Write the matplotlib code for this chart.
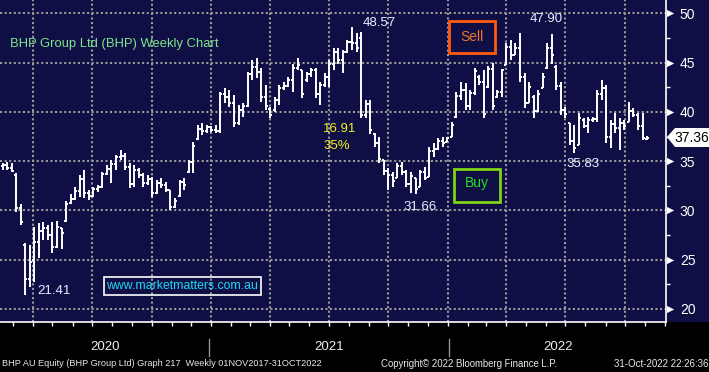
import numpy as np
import pandas as pd
import matplotlib
matplotlib.use("Agg")
import matplotlib.pyplot as plt
import matplotlib.dates as mdates
from matplotlib.patches import Rectangle, Polygon
from matplotlib.transforms import blended_transform_factory

plt.rcParams['font.family'] = ['Liberation Sans', 'DejaVu Sans']

# ---------------- data (weekly OHLC, weeks ending Friday) ----------------
first_week = "2020-02-07"
high = [35.3, 34.8, 34.9, 34.8, 33.8, 30.7, 26.7, 26.5, 28.3, 28.7,
        28.8, 28.5, 28.8, 28.9, 28.2, 31.0, 31.7, 32.4, 33.6, 34.1,
        32.1, 32.4, 32.6, 33.9, 34.6, 35.1, 35.6, 36.1, 35.8, 34.8,
        34.6, 34.3, 33.8, 33.6, 33.4, 33.1, 33.3, 32.9, 32.1, 31.3,
        33.1, 33.3, 35.1, 36.9, 38.7, 38.9, 38.7, 38.6, 38.7, 42.0,
        42.4, 42.2, 41.7, 40.7, 40.9, 44.0, 45.3, 45.5, 44.5, 42.7,
        40.5, 41.5, 42.7, 43.0, 43.5, 44.9, 45.5, 44.2, 44.0, 44.5,
        44.5, 43.0, 43.9, 45.3, 46.5, 46.5, 46.3, 47.3, 48.57, 48.0,
        48.1, 41.2, 41.2, 37.9, 37.4, 35.1, 34.3, 33.9, 34.8, 34.9,
        34.1, 33.9, 33.3, 34.1, 34.4, 36.4, 36.8, 37.3, 37.4, 37.4,
        39.0, 42.0, 43.0, 42.9, 42.2, 44.5, 43.7, 44.2, 44.7, 45.0,
        42.2, 44.4, 47.0, 47.3, 47.0, 48.0, 43.9, 43.0, 41.7, 42.2,
        43.9, 47.0, 47.9, 44.8, 43.0, 40.5, 38.9, 38.7, 39.9, 39.4,
        39.5, 39.5, 42.2, 43.2, 42.7, 39.2, 39.9, 39.4, 39.2, 41.0,
        40.4, 39.9, 39.9, 37.6]
low = [34.0, 34.1, 34.1, 33.9, 29.8, 28.5, 21.41, 22.2, 22.7, 25.2,
       27.0, 27.0, 25.7, 26.2, 26.1, 28.8, 30.7, 31.1, 31.4, 31.3,
       31.1, 31.4, 31.9, 32.3, 33.6, 32.8, 34.1, 35.1, 34.1, 32.3,
       32.4, 33.3, 32.4, 32.6, 31.4, 31.7, 32.3, 31.9, 30.0, 30.2,
       31.4, 32.1, 33.8, 33.8, 37.1, 37.7, 37.9, 38.0, 37.9, 37.9,
       40.9, 40.5, 38.5, 38.7, 39.5, 40.5, 43.2, 43.4, 41.0, 40.2,
       39.4, 40.0, 40.7, 42.2, 42.5, 42.0, 44.2, 41.4, 43.0, 43.5,
       41.4, 40.7, 42.5, 42.5, 44.2, 44.9, 43.9, 46.0, 46.3, 46.1,
       39.4, 39.4, 37.8, 36.4, 34.8, 33.6, 32.1, 32.4, 33.3, 33.6,
       32.4, 31.8, 31.66, 32.4, 33.1, 33.4, 35.4, 36.1, 36.4, 36.9,
       37.4, 39.4, 41.2, 40.2, 40.2, 41.7, 42.7, 39.4, 42.4, 40.2,
       41.4, 41.5, 44.8, 45.3, 45.8, 43.0, 40.4, 40.9, 39.4, 40.0,
       42.4, 44.4, 44.9, 42.2, 39.7, 39.4, 36.6, 35.83, 36.6, 38.4,
       37.9, 39.0, 39.0, 41.2, 36.8, 36.3, 37.9, 36.1, 38.2, 39.0,
       39.5, 38.2, 37.1, 37.1]
open_ = [34.8, 34.5, 34.6, 34.3, 33.6, 30.2, 26.5, 23.0, 25.0, 26.8,
         27.9, 28.2, 27.5, 26.3, 28.2, 28.9, 30.8, 31.2, 32.0, 33.2,
         31.8, 31.5, 32.2, 32.4, 33.7, 34.2, 34.7, 35.4, 35.5, 34.4,
         32.7, 34.1, 33.6, 32.8, 33.2, 31.8, 32.8, 32.6, 32.1, 30.3,
         31.5, 32.9, 33.9, 34.9, 37.2, 38.3, 38.1, 38.5, 38.2, 38.1,
         41.8, 41.5, 40.9, 38.9, 40.2, 40.6, 43.8, 44.6, 44.0, 41.5,
         40.3, 40.2, 41.2, 42.4, 42.6, 43.2, 44.5, 44.2, 43.2, 43.8,
         44.2, 41.8, 42.7, 43.5, 44.9, 46.1, 45.3, 46.1, 47.1, 47.0,
         47.5, 39.7, 40.8, 37.8, 36.8, 35.1, 34.0, 33.6, 33.3, 34.5,
         33.9, 32.7, 33.3, 32.4, 33.9, 33.4, 36.0, 36.2, 37.0, 36.9,
         37.4, 39.5, 41.6, 42.2, 40.6, 41.9, 43.5, 43.0, 42.5, 44.4,
         41.5, 42.0, 44.8, 46.6, 45.8, 46.5, 43.5, 40.9, 41.5, 40.1,
         42.4, 44.5, 46.5, 44.6, 42.6, 40.2, 38.9, 37.0, 36.6, 39.2,
         38.6, 39.2, 39.3, 41.8, 42.4, 37.4, 38.8, 38.4, 38.9, 39.0,
         40.1, 39.7, 38.6, 37.2]
close = [34.5, 34.6, 34.3, 34.0, 30.2, 28.8, 23.0, 24.8, 26.8, 27.9,
         28.2, 27.5, 26.3, 28.3, 27.7, 30.7, 31.2, 32.0, 33.2, 31.8,
         31.5, 32.2, 32.4, 33.7, 34.2, 34.7, 35.4, 35.5, 34.4, 32.7,
         34.1, 33.6, 32.8, 33.2, 31.8, 32.8, 32.6, 32.1, 30.3, 31.0,
         32.9, 32.6, 34.9, 36.5, 38.3, 38.1, 38.5, 38.2, 38.1, 41.8,
         41.5, 40.9, 38.9, 40.2, 40.6, 43.8, 44.6, 44.0, 41.5, 40.6,
         39.7, 41.2, 42.4, 42.6, 43.2, 44.5, 44.8, 41.8, 43.8, 44.2,
         41.8, 42.7, 43.5, 44.9, 46.1, 45.3, 46.1, 47.1, 47.0, 46.5,
         39.7, 40.8, 38.2, 36.8, 35.2, 34.0, 33.6, 33.0, 34.5, 33.9,
         32.7, 33.5, 32.2, 33.9, 33.3, 36.0, 36.2, 37.0, 36.8, 37.3,
         38.7, 41.6, 42.2, 40.6, 41.9, 44.1, 43.0, 39.8, 44.4, 40.6,
         42.0, 44.2, 46.6, 45.8, 46.5, 43.5, 40.9, 42.5, 40.1, 41.8,
         43.5, 46.5, 45.8, 42.6, 40.2, 39.8, 37.0, 36.3, 39.4, 38.6,
         39.2, 39.3, 41.8, 42.4, 37.4, 38.8, 38.4, 38.9, 38.6, 40.1,
         39.7, 38.6, 37.3, 37.36]

y_ticks = [20, 25, 30, 35, 40, 45, 50]
year_labels = ["2020", "2021", "2022"]
last_price = "37.36"

# ---------------- figure ----------------
W, H = 709, 372
NAVY = "#0f0e45"
fig = plt.figure(figsize=(W / 100, H / 100), dpi=100, facecolor="black")


def fx(px):
    return px / W


def fy(py):
    return 1 - py / H


fig.patches.append(Rectangle((0, fy(322)), 1, 322 / H, transform=fig.transFigure,
                             facecolor=NAVY, edgecolor="none", zorder=-5))

ax = fig.add_axes([0, fy(322), fx(666), 322 / H])
ax.set_facecolor(NAVY)
ax.set_zorder(1)

dates = pd.date_range(first_week, periods=len(high), freq="W-FRI")
x = mdates.date2num(dates)
base = mdates.date2num(pd.Timestamp("2020-01-01"))
ax.set_xlim(base + 40.1, base + 1067.2)
ax.set_ylim(18.68, 51.35)

tick = 3.1
ax.vlines(x, low, high, color="white", lw=1.4, zorder=3)
ax.hlines(open_, x - tick, x, color="white", lw=1.4, zorder=3)
ax.hlines(close, x, x + tick, color="white", lw=1.4, zorder=3)

# grid & axes
ax.xaxis.set_major_locator(mdates.MonthLocator(bymonth=[1, 4, 7, 10]))
ax.xaxis.set_minor_locator(mdates.MonthLocator())
ax.yaxis.set_major_locator(matplotlib.ticker.FixedLocator(y_ticks))
ax.yaxis.set_minor_locator(matplotlib.ticker.FixedLocator([22.5, 27.5, 32.5, 37.5, 42.5, 47.5]))
ax.grid(which="major", color="#9a9a9a", linestyle=(0, (1, 1.2)), lw=1.5, zorder=1)
ax.set_axisbelow(True)

for s in ["left", "top"]:
    ax.spines[s].set_visible(False)
for s in ["right", "bottom"]:
    ax.spines[s].set_color("white")
    ax.spines[s].set_linewidth(1.2)

ax.tick_params(axis="x", which="both", direction="out", length=3, width=1,
               color="white", labelbottom=False)
ax.yaxis.tick_right()
ax.tick_params(axis="y", which="major", length=0, pad=10, labelsize=10,
               labelcolor="white")
ax.tick_params(axis="y", which="minor", length=3, width=1, color="white")

trans = blended_transform_factory(ax.transAxes, ax.transData)
ax.scatter([1 + 4 / 666] * len(y_ticks), y_ticks, marker=">", s=28,
           color="white", transform=trans, clip_on=False, zorder=5, linewidths=0)

# last price tag
pts = [(667, 137), (675, 128), (709, 128), (709, 147), (675, 147)]
fig.patches.append(Polygon([(fx(a), fy(b)) for a, b in pts], closed=True,
                           transform=fig.transFigure, facecolor="white",
                           edgecolor="none", zorder=6))
fig.text(fx(692), fy(137.5), last_price, color="black", fontsize=10,
         ha="center", va="center", zorder=7)

# annotations
fig.text(fx(10), fy(44), "BHP Group Ltd (BHP) Weekly Chart", color="#7ee58a",
         fontsize=9.4, ha="left", va="center")
lab_col = "#e6f0ff"
fig.text(fx(379), fy(22.5), "48.57", color=lab_col, fontsize=9.5, ha="center", va="center")
fig.text(fx(546), fy(19), "47.90", color=lab_col, fontsize=9.5, ha="center", va="center")
fig.text(fx(583), fy(164), "35.83", color=lab_col, fontsize=9.5, ha="center", va="center")
fig.text(fx(420), fy(207), "31.66", color=lab_col, fontsize=9.5, ha="center", va="center")
fig.text(fx(54), fy(291), "21.41", color=lab_col, fontsize=9.5, ha="center", va="center")
fig.text(fx(323), fy(129), "16.91", color="#f2f21e", fontsize=9.5, ha="left", va="center")
fig.text(fx(323), fy(146), "35%", color="#f2f21e", fontsize=9.5, ha="left", va="center")

# Sell / Buy boxes
fig.patches.append(Rectangle((fx(449), fy(53)), fx(495) - fx(449), fy(21) - fy(53),
                             transform=fig.transFigure, facecolor="none",
                             edgecolor="#ff5a10", lw=2, zorder=6))
fig.text(fx(472), fy(37), "Sell", color="#f07424", fontsize=10, ha="center", va="center")
fig.patches.append(Rectangle((fx(454), fy(202)), fx(500) - fx(454), fy(169) - fy(202),
                             transform=fig.transFigure, facecolor="none",
                             edgecolor="#7ed314", lw=2, zorder=6))
fig.text(fx(477), fy(183), "Buy", color="#22e022", fontsize=10, ha="center", va="center")

# website box
fig.patches.append(Rectangle((fx(103.5), fy(294.5)), fx(260.5) - fx(103.5), fy(277) - fy(294.5),
                             transform=fig.transFigure, facecolor="none",
                             edgecolor="white", lw=1.2, zorder=6))
fig.text(fx(182), fy(286), "www.marketmatters.com.au", color="#20d8f0", fontsize=8.8,
         ha="center", va="center")

# bottom year labels and separators
for lbl, xc in zip(year_labels, [105, 329, 558]):
    fig.text(fx(xc), fy(347), lbl, color="#eeeeee", fontsize=9.5, ha="center", va="center")
for xs in [209, 449]:
    fig.add_artist(plt.Line2D([fx(xs), fx(xs)], [fy(339), fy(356)], color="#909090",
                              lw=1, transform=fig.transFigure))

foot_col = "#e8e8e8"
fig.text(fx(2), fy(364), "BHP AU Equity (BHP Group Ltd) Graph 217  Weekly 01NOV2017-31OCT2022",
         color=foot_col, fontsize=6.6, ha="left", va="center")
fig.text(fx(381), fy(364), "Copyright\u00a9 2022 Bloomberg Finance L.P.", color=foot_col,
         fontsize=6.9, ha="left", va="center")
fig.text(fx(708), fy(364), "31-Oct-2022 22:26:36", color=foot_col, fontsize=7,
         ha="right", va="center")

fig.savefig("out.png", dpi=100, facecolor="black")
